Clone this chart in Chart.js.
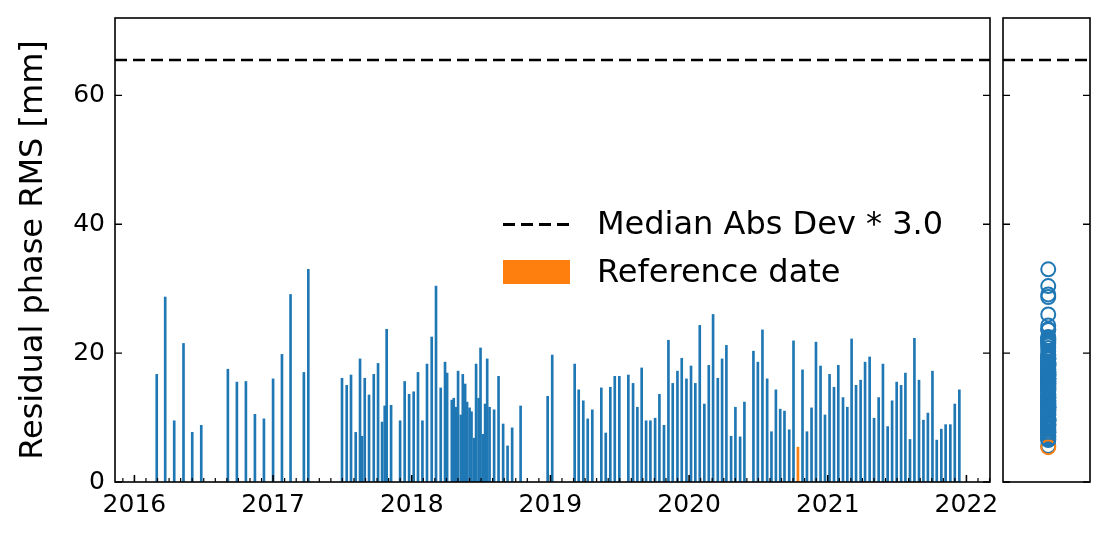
<!DOCTYPE html>
<html><head><meta charset="utf-8">
<script src="https://cdn.jsdelivr.net/npm/chart.js@4"></script>
<style>
html,body{margin:0;padding:0;background:#fff;}
#wrap{position:relative;width:1113px;height:545px;font-family:"DejaVu Sans",sans-serif;}
canvas{position:absolute;left:0;top:0;}
.leg{position:absolute;font-size:32px;color:#000;line-height:1;white-space:nowrap;}
</style></head><body>
<div id="wrap">
<canvas id="c1" width="1113" height="545"></canvas>
<canvas id="c2" width="1113" height="545"></canvas>
<div style="position:absolute;left:503px;top:223px;width:67px;height:3px;background:repeating-linear-gradient(90deg,#000 0 12px,transparent 12px 18px);"></div>
<div class="leg" style="left:597px;top:207px;">Median Abs Dev * 3.0</div>
<div style="position:absolute;left:503px;top:260px;width:67px;height:24px;background:#ff7f0e;"></div>
<div class="leg" style="left:597px;top:255px;">Reference date</div>
</div>
<script>
// decimal-year dates of observations
const dates = [2016.161,2016.222,2016.287,2016.354,2016.417,2016.482,2016.674,2016.739,2016.804,2016.869,2016.934,2017.000,2017.064,2017.126,2017.222,2017.254,
2017.497,2017.531,2017.562,2017.596,2017.627,2017.641,2017.661,2017.692,2017.726,2017.757,2017.786,2017.805,2017.819,2017.851,2017.916,2017.949,2017.981,
2018.014,2018.045,2018.077,2018.110,2018.144,2018.175,2018.209,2018.240,2018.255,2018.289,2018.303,2018.320,2018.334,2018.354,2018.368,2018.385,2018.399,2018.417,2018.431,2018.450,2018.464,2018.482,2018.496,2018.513,2018.529,2018.544,2018.561,2018.594,2018.626,2018.659,2018.691,2018.724,2018.785,
2018.980,2019.013,2019.175,2019.204,2019.237,2019.269,2019.302,2019.367,2019.399,2019.432,2019.464,2019.497,2019.562,2019.596,2019.627,2019.658,2019.690,2019.721,2019.755,2019.786,2019.819,2019.851,2019.882,2019.916,2019.947,2019.981,
2020.014,2020.045,2020.077,2020.110,2020.142,2020.173,2020.207,2020.238,2020.269,2020.303,2020.334,2020.368,2020.399,2020.464,2020.496,2020.529,2020.563,2020.594,2020.626,2020.657,2020.688,2020.722,2020.753,2020.785,2020.818,2020.850,2020.883,2020.915,2020.948,2020.980,
2021.013,2021.045,2021.076,2021.110,2021.141,2021.172,2021.204,2021.237,2021.269,2021.302,2021.334,2021.367,2021.398,2021.432,2021.464,2021.497,2021.529,2021.560,2021.593,2021.625,2021.658,2021.690,2021.722,2021.755,2021.786,2021.819,2021.850,2021.884,2021.916,2021.949];
// residual phase RMS [mm]
const rms = [16.7,28.7,9.5,21.5,7.7,8.8,17.5,15.5,15.6,10.5,9.8,16.0,19.8,29.1,17.0,33.0,
16.1,15.0,16.6,7.7,19.1,7.1,16.1,13.5,16.7,18.4,9.3,11.8,23.7,11.9,9.5,15.6,13.6,
14.0,17.0,9.5,18.3,22.5,30.4,14.6,18.6,16.9,12.7,13.0,11.6,17.2,10.4,16.7,15.2,12.4,11.5,10.9,6.8,18.3,13.0,20.8,7.4,12.1,19.1,11.6,11.2,16.4,9.0,5.6,8.4,11.8,
13.3,19.7,18.3,14.3,12.6,9.8,11.2,14.6,7.6,14.7,16.4,16.4,16.6,15.3,11.6,17.7,9.5,9.5,9.9,13.6,8.8,22.0,15.3,17.2,19.2,16.0,
18.0,15.3,24.3,12.1,18.1,26.0,16.1,19.1,21.2,7.1,11.6,7.0,12.4,20.3,18.6,23.6,16.0,7.8,14.3,11.3,11.0,8.1,21.9,5.4,17.4,7.8,11.5,21.7,18.0,10.4,
16.7,14.7,18.1,13.1,11.6,22.2,15.0,15.8,18.6,19.4,9.9,13.1,18.3,8.6,12.6,15.5,15.0,16.9,6.6,22.3,15.8,9.6,10.7,17.2,6.5,8.2,8.9,8.9,12.1,14.3];
const refDate = 2020.785;
const threshold = 65.5;
const yTicks = [0,20,40,60];
const xTicks = [2016,2017,2018,2019,2020,2021,2022];
const xMin = 2015.86, xMax = 2022.17, yMin = 0, yMax = 72;

const BLUE = '#1f77b4', ORANGE = '#ff7f0e';
Chart.defaults.font.family = '"DejaVu Sans", sans-serif';
Chart.defaults.color = '#000';
Chart.defaults.animation = false;

const framePlugin = (opts) => ({
  id:'frame'+opts.id,
  afterDraw(chart){
    const ctx = chart.ctx, a = chart.chartArea, ys = chart.scales.y, xs = chart.scales.x;
    ctx.save();
    ctx.strokeStyle = '#000'; ctx.lineWidth = 1.6;
    ctx.strokeRect(a.left, a.top, a.right-a.left, a.bottom-a.top);
    ctx.lineWidth = 1.4;
    yTicks.forEach(v=>{
      const p = ys.getPixelForValue(v);
      ctx.beginPath();
      ctx.moveTo(a.left,p); ctx.lineTo(a.left+7,p);
      ctx.moveTo(a.right,p); ctx.lineTo(a.right-7,p);
      ctx.stroke();
    });
    if(opts.xticks){
      xTicks.forEach(v=>{
        const p = xs.getPixelForValue(v);
        ctx.lineWidth=1.6;
        ctx.beginPath(); ctx.moveTo(p,a.bottom); ctx.lineTo(p,a.bottom-7); ctx.stroke();
      });
      for(let m=Math.ceil(xMin*12); m<=xMax*12; m++){
        if(m%12===0) continue;
        const p = xs.getPixelForValue(m/12);
        ctx.lineWidth=1.2;
        ctx.beginPath(); ctx.moveTo(p,a.bottom); ctx.lineTo(p,a.bottom-4); ctx.stroke();
      }
    }
    ctx.restore();
  }
});

new Chart(document.getElementById('c1'), {
  type:'bar',
  data:{datasets:[
    {type:'line', data:[{x:xMin,y:threshold},{x:xMax,y:threshold}], borderColor:'#000', borderWidth:2.5, borderDash:[12,6], pointRadius:0},
    {data:dates.map((d,i)=>({x:d,y:rms[i]})), backgroundColor:dates.map(d=>d===refDate?ORANGE:BLUE), barThickness:2, borderWidth:0}
  ]},
  options:{
    responsive:false, maintainAspectRatio:false,
    layout:{padding:{top:18,right:123,bottom:0,left:0}},
    plugins:{legend:{display:false},tooltip:{enabled:false}},
    scales:{
      x:{type:'linear', min:xMin, max:xMax, offset:false,
        afterBuildTicks(s){s.ticks = xTicks.map(v=>({value:v}));},
        afterFit(s){s.height=63; s.paddingLeft=0; s.paddingRight=0;},
        grid:{display:false, drawTicks:false}, border:{display:false},
        ticks:{font:{size:25}, padding:8, callback:v=>String(v)}},
      y:{min:yMin, max:yMax,
        afterBuildTicks(s){s.ticks = yTicks.map(v=>({value:v}));},
        afterFit(s){s.width=115; s.paddingTop=0; s.paddingBottom=0;},
        grid:{display:false, drawTicks:false}, border:{display:false},
        ticks:{font:{size:25}, padding:10},
        title:{display:true, text:'Residual phase RMS [mm]', font:{size:32}, padding:{top:14,bottom:0}}}
    }
  },
  plugins:[framePlugin({id:1,xticks:true})]
});

new Chart(document.getElementById('c2'), {
  type:'scatter',
  data:{datasets:[
    {type:'line', data:[{x:0,y:threshold},{x:1,y:threshold}], borderColor:'#000', borderWidth:2.5, borderDash:[12,6], pointRadius:0},
    {data:rms.map((v,i)=>({x:0.52,y:v})), pointRadius:7, pointBorderWidth:2,
     pointBackgroundColor:'rgba(0,0,0,0)', pointBorderColor:dates.map(d=>d===refDate?ORANGE:BLUE)}
  ]},
  options:{
    responsive:false, maintainAspectRatio:false,
    layout:{padding:{top:18,right:23,bottom:63,left:1003}},
    plugins:{legend:{display:false},tooltip:{enabled:false}},
    scales:{
      x:{type:'linear', min:0, max:1, display:false},
      y:{min:yMin, max:yMax, display:false}
    }
  },
  plugins:[framePlugin({id:2,xticks:false})]
});
</script>
</body></html>
